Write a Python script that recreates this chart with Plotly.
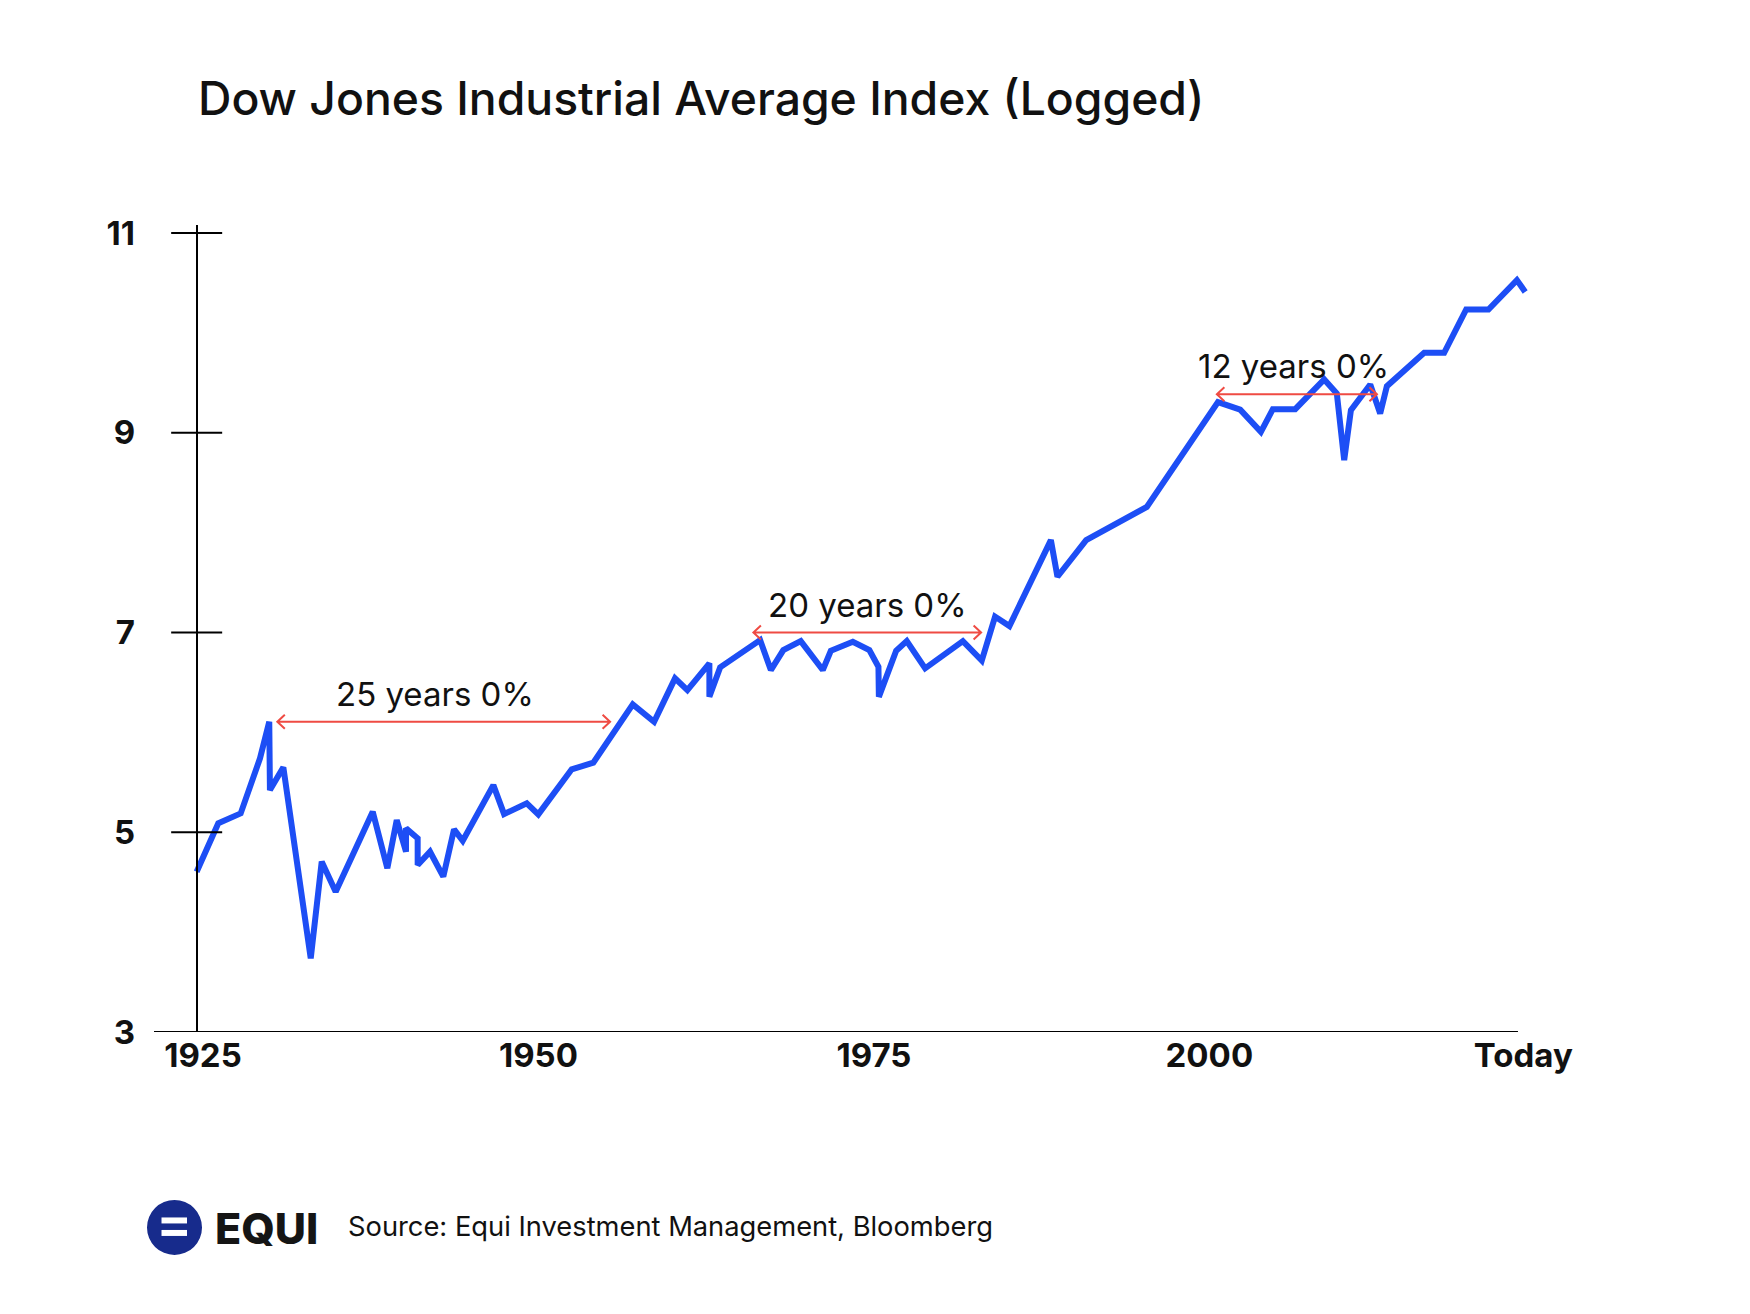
import plotly.graph_objects as go

# ---------------- data ----------------
title_text = "Dow Jones Industrial Average Index (Logged)"
source_text = "Source: Equi Investment Management, Bloomberg"
brand_text = "EQUI"

years = [1924.53, 1926.14, 1927.81, 1929.25, 1929.94, 1929.99, 1930.99, 1933.03,
         1933.85, 1934.89, 1937.65, 1938.74, 1939.44, 1940.13, 1940.13, 1941.00,
         1941.00, 1941.92, 1942.91, 1943.71, 1944.36, 1946.64, 1947.44, 1949.13,
         1949.99, 1952.48, 1954.09, 1957.03, 1958.62, 1960.18, 1961.10, 1962.74,
         1962.74, 1963.54, 1966.52, 1967.32, 1968.25, 1969.55, 1971.19, 1971.79,
         1973.43, 1974.66, 1975.34, 1975.37, 1976.66, 1977.45, 1978.82, 1981.63,
         1983.04, 1984.03, 1985.10, 1988.19, 1988.68, 1990.82, 1995.34, 2000.64,
         2002.30, 2003.84, 2004.73, 2006.40, 2008.56, 2009.50, 2010.05, 2010.55,
         2011.99, 2012.73, 2013.23, 2016.01, 2017.50, 2019.14, 2020.80, 2022.92,
         2023.54]
values = [4.605, 5.089, 5.189, 5.740, 6.106, 5.422, 5.650, 3.738,
          4.705, 4.404, 5.205, 4.639, 5.122, 4.805, 5.039, 4.939,
          4.672, 4.805, 4.555, 5.029, 4.915, 5.472, 5.182, 5.289,
          5.179, 5.630, 5.696, 6.280, 6.106, 6.541, 6.423, 6.691,
          6.356, 6.651, 6.924, 6.624, 6.824, 6.914, 6.624, 6.817,
          6.907, 6.824, 6.657, 6.356, 6.817, 6.914, 6.641, 6.914,
          6.719, 7.159, 7.064, 7.925, 7.558, 7.925, 8.258, 9.306,
          9.231, 9.009, 9.236, 9.236, 9.534, 9.393, 8.726, 9.226,
          9.483, 9.193, 9.466, 9.800, 9.800, 10.234, 10.234, 10.528,
          10.410]

y_tick_vals = [3, 5, 7, 9, 11]
y_tick_text = ["3", "5", "7", "9", "11"]
x_tick_vals = [1925, 1950, 1975, 2000, 2023.4]
x_tick_text = ["1925", "1950", "1975", "2000", "Today"]

flat_start = [1930.54, 1966.02, 2000.56]
flat_end = [1955.34, 1982.99, 2012.49]
flat_level = [6.106, 7.0, 9.386]
flat_label_x = [1942.3, 1974.5, 2006.3]
flat_labels = ["25 years 0%", "20 years 0%", "12 years 0%"]

x_axis_extent = [1921.35, 2023.0]

# ---------------- layout geometry / styles ----------------
W, H = 1750, 1314
OFF = 8                      # page offset of the figure inside the browser window
ML, MR, MT, MB = 146, 225.2, 216.8, 290
x_range = [1921.35, 2024.12]
y_range = [3, 11.08]
plot_w = W - ML - MR
plot_h = H - MT - MB
ppy = plot_w / (x_range[1] - x_range[0])     # pixels per year
ppu = plot_h / (y_range[1] - y_range[0])     # pixels per unit

BLUE = "#1D4EF5"
RED = "#EF4B43"
NAVY = "#172B8C"
FONT = "Inter"


def pxx(px):
    return (px - OFF - ML) / plot_w


def pxy(py):
    return (H - MB - (py - OFF)) / plot_h


axis_year = years[0]
axis_pos = (axis_year - x_range[0]) / (x_range[1] - x_range[0])

fig = go.Figure()
fig.add_trace(go.Scatter(
    x=years, y=values, mode="lines",
    line=dict(color=BLUE, width=6),
    hoverinfo="skip", showlegend=False,
))

shapes = []
# x-axis baseline
shapes.append(dict(type="line", xref="x", yref="y",
                   x0=x_axis_extent[0], x1=x_axis_extent[1], y0=y_range[0], y1=y_range[0],
                   line=dict(color="black", width=2)))
# y-axis tick marks crossing the axis line
half_tick = 25.5 / ppy
for v in y_tick_vals[1:]:
    shapes.append(dict(type="line", xref="x", yref="y",
                       x0=axis_year - half_tick, x1=axis_year + half_tick,
                       y0=v, y1=v, line=dict(color="black", width=2)))

# flat-period arrows with open chevrons at both ends
dx = 7.5 / ppy
dy = 7.0 / ppu
for s, e, lv in zip(flat_start, flat_end, flat_level):
    path = (f"M {s},{lv} L {e},{lv} "
            f"M {s+dx},{lv+dy} L {s},{lv} L {s+dx},{lv-dy} "
            f"M {e-dx},{lv+dy} L {e},{lv} L {e-dx},{lv-dy}")
    shapes.append(dict(type="path", xref="x", yref="y", path=path,
                       line=dict(color=RED, width=2)))

# logo: circle with "=" sign
shapes.append(dict(type="circle", xref="paper", yref="paper",
                   x0=pxx(147), x1=pxx(202), y0=pxy(1255), y1=pxy(1200),
                   fillcolor=NAVY, line=dict(width=0)))
for top, bot in [(1217.5, 1223.5), (1230.0, 1236.0)]:
    shapes.append(dict(type="rect", xref="paper", yref="paper",
                       x0=pxx(161.5), x1=pxx(187), y0=pxy(bot), y1=pxy(top),
                       fillcolor="white", line=dict(width=0)))

annotations = []
for lx, lv, txt in zip(flat_label_x, flat_level, flat_labels):
    annotations.append(dict(x=lx, y=lv, xref="x", yref="y",
                            text=txt, showarrow=False, xanchor="center",
                            yanchor="middle", yshift=28,
                            font=dict(family=FONT, size=33, color="#111111")))

annotations.append(dict(x=pxx(196), y=pxy(98), xref="paper", yref="paper",
                        text=title_text, showarrow=False, xanchor="left",
                        yanchor="middle",
                        font=dict(family=FONT, size=46.3, color="#111111", weight=500)))
annotations.append(dict(x=pxx(213), y=pxy(1228), xref="paper", yref="paper",
                        text=brand_text, showarrow=False, xanchor="left",
                        yanchor="middle",
                        font=dict(family=FONT, size=43, color="#151515", weight=800)))
annotations.append(dict(x=pxx(345.5), y=pxy(1227), xref="paper", yref="paper",
                        text=source_text, showarrow=False, xanchor="left",
                        yanchor="middle",
                        font=dict(family=FONT, size=27.3, color="#111111")))

fig.update_layout(
    width=W, height=H,
    margin=dict(l=ML, r=MR, t=MT, b=MB, autoexpand=False),
    paper_bgcolor="white", plot_bgcolor="white",
    showlegend=False,
    shapes=shapes, annotations=annotations,
    xaxis=dict(range=x_range, showgrid=False, zeroline=False,
               showline=False,
               ticks="", tickvals=x_tick_vals, ticktext=x_tick_text,
               tickfont=dict(family=FONT, size=33, color="#111111", weight=700),
               ticklabelstandoff=1, automargin=False),
    yaxis=dict(range=y_range, showgrid=False, zeroline=False,
               anchor="free", position=axis_pos,
               showline=True, linecolor="black", linewidth=2,
               ticks="", tickvals=y_tick_vals, ticktext=y_tick_text,
               tickfont=dict(family=FONT, size=33, color="#111111", weight=700),
               ticklabelstandoff=54, automargin=False),
)

fig.write_html("out.html")
